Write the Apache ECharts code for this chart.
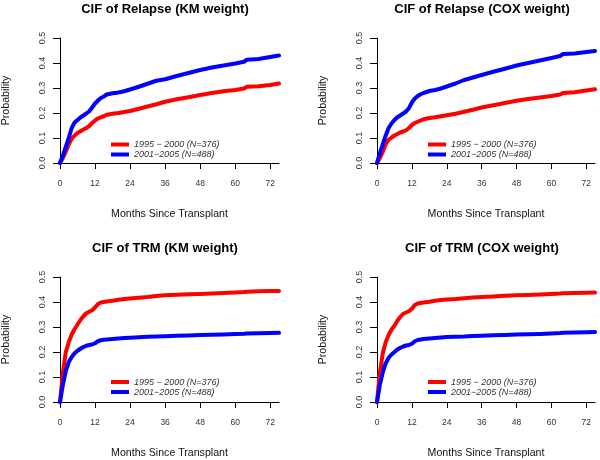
<!DOCTYPE html>
<html><head><meta charset="utf-8">
<script src="https://cdn.jsdelivr.net/npm/echarts@6/dist/echarts.min.js"></script>
<style>html,body{margin:0;padding:0;background:#fff}#c{width:600px;height:460px}</style>
</head><body><div id="c"></div>
<script>
const months = [0,1,2,3,4,5,6,7,8,9,10,11,12,13,14,15,16,18,20,22,24,27,30,33,36,40,44,48,52,56,60,63,64,68,72,75];
const xTicks = [0,12,24,36,48,60,72];
const yTicks = [0,0.1,0.2,0.3,0.4,0.5];
const seriesNames = ["1995 \u2212 2000 (N=376)", "2001\u22122005 (N=488)"];
const panelTitles = ["CIF of Relapse (KM weight)", "CIF of Relapse (COX weight)", "CIF of TRM (KM weight)", "CIF of TRM (COX weight)"];

const relapseKM_1995 = [0,0.02,0.045,0.075,0.097,0.11,0.12,0.127,0.134,0.14,0.148,0.16,0.17,0.178,0.183,0.187,0.193,0.197,0.2,0.204,0.208,0.217,0.226,0.235,0.245,0.255,0.263,0.272,0.28,0.287,0.292,0.298,0.305,0.307,0.312,0.318];
const relapseKM_2001 = [0,0.03,0.065,0.1,0.14,0.162,0.172,0.182,0.19,0.198,0.207,0.222,0.238,0.25,0.26,0.266,0.274,0.279,0.282,0.287,0.294,0.305,0.317,0.329,0.335,0.348,0.36,0.372,0.382,0.39,0.398,0.405,0.413,0.416,0.424,0.43];
const relapseCOX_1995 = [0,0.02,0.045,0.075,0.093,0.102,0.11,0.116,0.122,0.126,0.131,0.14,0.152,0.16,0.165,0.17,0.175,0.18,0.183,0.187,0.191,0.197,0.205,0.213,0.222,0.231,0.24,0.249,0.256,0.262,0.268,0.274,0.28,0.283,0.29,0.295];
const relapseCOX_2001 = [0,0.04,0.075,0.11,0.14,0.158,0.172,0.183,0.19,0.198,0.206,0.22,0.242,0.258,0.268,0.275,0.28,0.288,0.292,0.298,0.306,0.318,0.332,0.342,0.352,0.365,0.377,0.39,0.4,0.41,0.42,0.428,0.436,0.438,0.444,0.448];
const trmKM_1995 = [0,0.12,0.2,0.24,0.27,0.292,0.31,0.328,0.343,0.355,0.361,0.367,0.378,0.392,0.398,0.4,0.402,0.405,0.409,0.412,0.414,0.417,0.42,0.424,0.427,0.429,0.431,0.432,0.434,0.436,0.438,0.44,0.441,0.443,0.444,0.444];
const trmKM_2001 = [0,0.07,0.125,0.16,0.18,0.195,0.205,0.213,0.22,0.225,0.228,0.23,0.235,0.243,0.247,0.249,0.25,0.252,0.254,0.256,0.257,0.259,0.261,0.262,0.263,0.265,0.266,0.268,0.269,0.27,0.272,0.273,0.274,0.275,0.276,0.277];
const trmCOX_1995 = [0,0.12,0.195,0.24,0.268,0.29,0.305,0.325,0.34,0.353,0.358,0.363,0.373,0.388,0.394,0.396,0.398,0.401,0.405,0.408,0.41,0.412,0.415,0.418,0.42,0.422,0.425,0.427,0.428,0.43,0.432,0.434,0.435,0.436,0.437,0.438];
const trmCOX_2001 = [0,0.07,0.12,0.155,0.177,0.19,0.2,0.21,0.217,0.222,0.226,0.228,0.233,0.243,0.248,0.25,0.252,0.254,0.256,0.258,0.26,0.261,0.262,0.264,0.265,0.267,0.268,0.27,0.271,0.272,0.274,0.276,0.277,0.278,0.279,0.28];

const panelData = [
  [relapseKM_1995, relapseKM_2001],
  [relapseCOX_1995, relapseCOX_2001],
  [trmKM_1995, trmKM_2001],
  [trmCOX_1995, trmCOX_2001]
];

const FONT = "'Liberation Sans', Arial, Helvetica, sans-serif";
const colors = ['#ff0000', '#0000ff'];
const grids = [
  {left: 60, top: 38, width: 219, height: 125},
  {left: 377, top: 38, width: 218, height: 125},
  {left: 60, top: 277, width: 219, height: 125},
  {left: 377, top: 277, width: 218, height: 125}
];
const titlePos = [{x: 165, y: 2.5}, {x: 482, y: 2.5}, {x: 165, y: 241.5}, {x: 482, y: 241.5}];
const legendPos = [{x: 111, y: 139.5}, {x: 428, y: 139.5}, {x: 111, y: 377}, {x: 428, y: 377}];

const option = {
  animation: false,
  backgroundColor: '#fff',
  textStyle: {fontFamily: FONT},
  title: panelTitles.map((t, i) => ({
    text: t, left: titlePos[i].x, top: titlePos[i].y, textAlign: 'center', padding: 0,
    textStyle: {fontFamily: FONT, fontSize: 13, fontWeight: 'bold', color: '#000'}
  })),
  legend: legendPos.map((p, i) => ({
    left: p.x, top: p.y, orient: 'vertical', padding: 0, itemGap: 0,
    icon: 'rect', itemWidth: 18, itemHeight: 4, selectedMode: false,
    data: seriesNames.map((n, k) => ({name: n, itemStyle: {color: colors[k]}})),
    textStyle: {fontFamily: FONT, fontSize: 9, fontStyle: 'italic', color: '#333', lineHeight: 10, height: 10, padding: 0}
  })),
  grid: grids,
  xAxis: grids.map((g, i) => ({
    type: 'value', gridIndex: i, min: 0, max: 75,
    name: 'Months Since Transplant', nameLocation: 'middle', nameGap: 46,
    nameTextStyle: {fontFamily: FONT, fontSize: 10.6, color: '#111'},
    axisLine: {show: true, onZero: false, lineStyle: {color: '#000', width: 1}},
    axisTick: {show: true, inside: false, length: 6, lineStyle: {color: '#000'}, customValues: xTicks},
    axisLabel: {show: true, margin: 16, fontSize: 8.5, color: '#333', fontFamily: FONT, customValues: xTicks},
    splitLine: {show: false}
  })),
  yAxis: grids.map((g, i) => ({
    type: 'value', gridIndex: i, min: 0, max: 0.5,
    name: 'Probability', nameLocation: 'middle', nameGap: 48,
    nameTextStyle: {fontFamily: FONT, fontSize: 10.6, color: '#111'},
    axisLine: {show: true, onZero: false, lineStyle: {color: '#000', width: 1}},
    axisTick: {show: true, inside: false, length: 7, lineStyle: {color: '#000'}, customValues: yTicks},
    axisLabel: {show: true, rotate: 90, margin: 13, fontSize: 9, color: '#333', fontFamily: FONT,
      customValues: yTicks, formatter: v => v.toFixed(1)},
    splitLine: {show: false}
  })),
  series: []
};

panelData.forEach((pair, i) => {
  pair.forEach((vals, k) => {
    option.series.push({
      type: 'line', name: seriesNames[k], xAxisIndex: i, yAxisIndex: i,
      data: months.map((m, j) => [m, vals[j]]),
      showSymbol: false, symbol: 'none', smooth: false, clip: false,
      lineStyle: {color: colors[k], width: 4, join: 'round', cap: 'round'},
      itemStyle: {color: colors[k]},
      z: 2 + k
    });
  });
});

const chart = echarts.init(document.getElementById('c'), null, {renderer: 'canvas'});
chart.setOption(option);
</script></body></html>
